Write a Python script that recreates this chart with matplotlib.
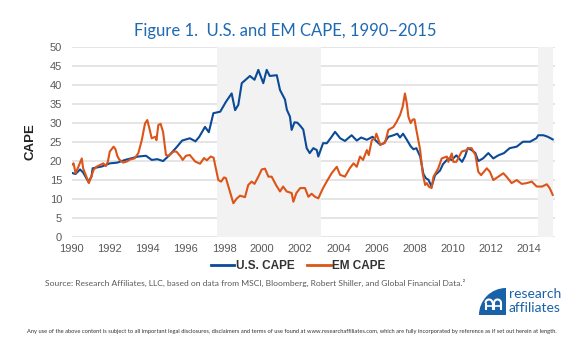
import matplotlib
matplotlib.use("Agg")
import matplotlib.pyplot as plt
from matplotlib.patches import Wedge, Arc
from matplotlib.lines import Line2D

# U.S. CAPE (year fraction, value)
us_years = [1990.0, 1990.2, 1990.44, 1990.6, 1990.87, 1991.04, 1991.1, 1991.6, 1992.0, 1992.4,
            1992.8, 1993.5, 1993.9, 1994.2, 1994.5, 1994.8, 1995.1, 1995.5, 1995.8, 1996.2,
            1996.5, 1996.7, 1997.0, 1997.2, 1997.44, 1997.8, 1998.1, 1998.4, 1998.58, 1998.75,
            1998.93, 1999.36, 1999.6, 1999.8, 2000.06, 2000.24, 2000.4, 2000.77, 2000.94, 2001.2,
            2001.3, 2001.46, 2001.55, 2001.7, 2001.85, 2002.0, 2002.16, 2002.34, 2002.5, 2002.69,
            2002.87, 2002.95, 2003.2, 2003.4, 2003.65, 2003.83, 2004.1, 2004.35, 2004.7, 2004.97,
            2005.2, 2005.5, 2005.8, 2005.93, 2006.2, 2006.4, 2006.63, 2006.9, 2007.1, 2007.24,
            2007.4, 2007.6, 2007.8, 2007.95, 2008.1, 2008.3, 2008.47, 2008.6, 2008.73, 2008.9,
            2009.08, 2009.34, 2009.5, 2009.78, 2009.95, 2010.2, 2010.5, 2010.65, 2010.8, 2011.0,
            2011.2, 2011.35, 2011.6, 2011.88, 2012.14, 2012.4, 2012.7, 2013.0, 2013.37, 2013.7,
            2014.07, 2014.4, 2014.5, 2014.77, 2015.0, 2015.26]
us_cape = [16.8, 16.5, 17.7, 16.9, 14.5, 15.8, 18.0, 18.5, 19.3, 19.5,
           20.2, 21.1, 21.3, 20.2, 20.4, 19.9, 21.3, 23.5, 25.3, 25.9,
           25.1, 26.3, 28.9, 27.5, 32.5, 32.9, 35.5, 37.7, 33.3, 34.7,
           40.4, 42.3, 41.3, 43.9, 40.4, 43.9, 42.3, 42.5, 38.6, 36.1,
           33.4, 31.6, 28.1, 30.1, 30.0, 29.2, 28.2, 23.3, 22.0, 23.3,
           22.8, 21.1, 24.6, 24.6, 26.3, 27.6, 25.9, 25.2, 26.7, 25.3,
           26.1, 25.5, 26.3, 25.5, 24.2, 24.6, 26.3, 26.7, 27.1, 26.1,
           27.1, 25.5, 23.8, 23.0, 23.3, 21.1, 16.5, 15.4, 15.0, 13.2,
           16.2, 17.4, 19.1, 20.6, 20.2, 21.4, 19.7, 21.1, 23.3, 22.8,
           22.0, 19.9, 20.6, 22.0, 20.6, 21.4, 22.0, 23.3, 23.7, 25.0,
           25.0, 25.9, 26.7, 26.7, 26.3, 25.6]

# EM CAPE (year fraction, value)
em_years = [1990.0, 1990.1, 1990.2, 1990.35, 1990.53, 1990.6, 1990.8, 1990.9, 1991.0, 1991.15,
            1991.3, 1991.5, 1991.66, 1991.8, 1991.9, 1992.0, 1992.2, 1992.3, 1992.4, 1992.5,
            1992.7, 1992.9, 1993.06, 1993.3, 1993.5, 1993.68, 1993.85, 1993.97, 1994.1, 1994.2,
            1994.4, 1994.45, 1994.55, 1994.67, 1994.8, 1994.95, 1995.1, 1995.34, 1995.5, 1995.7,
            1995.83, 1996.0, 1996.2, 1996.48, 1996.74, 1996.95, 1997.1, 1997.3, 1997.45, 1997.55,
            1997.7, 1997.85, 1998.0, 1998.1, 1998.31, 1998.49, 1998.66, 1998.84, 1999.1, 1999.27,
            1999.45, 1999.6, 1999.8, 1999.98, 2000.15, 2000.33, 2000.5, 2000.73, 2000.94, 2001.1,
            2001.29, 2001.55, 2001.64, 2001.8, 2002.0, 2002.25, 2002.43, 2002.6, 2002.78, 2002.95,
            2003.2, 2003.39, 2003.65, 2003.92, 2004.09, 2004.35, 2004.6, 2004.8, 2004.97, 2005.14,
            2005.3, 2005.5, 2005.6, 2005.76, 2005.93, 2006.0, 2006.2, 2006.45, 2006.63, 2006.9,
            2007.07, 2007.24, 2007.38, 2007.5, 2007.6, 2007.68, 2007.8, 2007.9, 2008.0, 2008.1,
            2008.3, 2008.43, 2008.56, 2008.65, 2008.75, 2008.9, 2009.0, 2009.25, 2009.43, 2009.7,
            2009.78, 2009.96, 2010.04, 2010.2, 2010.48, 2010.75, 2010.83, 2011.0, 2011.2, 2011.35,
            2011.5, 2011.8, 2011.96, 2012.14, 2012.4, 2012.67, 2012.9, 2013.1, 2013.37, 2013.63,
            2013.9, 2014.16, 2014.42, 2014.7, 2014.95, 2015.1, 2015.26]
em_cape = [18.9, 19.3, 16.7, 18.4, 20.6, 18.0, 15.4, 14.1, 15.4, 17.6,
           18.4, 18.9, 19.3, 18.6, 19.8, 22.4, 23.7, 23.0, 21.2, 20.3,
           19.5, 19.8, 20.3, 20.6, 22.0, 25.4, 29.8, 30.7, 28.1, 25.9,
           26.3, 25.4, 29.4, 29.7, 27.5, 21.5, 21.3, 22.4, 22.4, 21.2,
           20.2, 21.3, 21.5, 19.8, 19.2, 20.7, 20.1, 21.1, 20.8, 18.4,
           14.9, 14.5, 15.6, 15.4, 11.8, 8.8, 10.0, 10.8, 10.4, 13.6,
           14.5, 13.9, 15.8, 17.7, 17.9, 15.8, 15.8, 13.6, 11.9, 13.2,
           11.9, 11.5, 9.2, 11.5, 12.8, 12.8, 10.5, 11.3, 10.5, 10.1,
           12.8, 14.5, 16.7, 18.4, 16.3, 15.8, 18.0, 19.3, 18.4, 21.1,
           20.2, 22.8, 21.5, 25.4, 25.9, 27.1, 24.2, 24.7, 28.1, 28.9,
           30.3, 32.0, 34.2, 37.7, 35.0, 31.6, 29.9, 30.8, 30.9, 28.1,
           22.8, 16.7, 13.6, 14.1, 13.2, 12.8, 15.8, 18.0, 20.6, 21.1,
           19.7, 21.9, 19.7, 19.7, 22.4, 22.8, 23.3, 23.3, 21.5, 17.1,
           16.2, 18.0, 17.1, 14.9, 15.8, 16.7, 15.4, 14.1, 14.9, 13.9,
           14.1, 14.5, 13.2, 13.2, 13.8, 12.8, 11.0]

# Shaded periods
band_starts = [1997.62, 2014.5]
band_ends = [2003.08, 2015.26]

x_ticks = list(range(1990, 2015, 2))
y_ticks = list(range(0, 51, 5))

BLUE = "#0b4a96"
ORANGE = "#dd5418"
TITLE_BLUE = "#1f69b3"
LOGO_BLUE = "#1a62a8"
GRAY = "#595959"

W, H = 580, 343
fig = plt.figure(figsize=(W / 100, H / 100), dpi=100)

# main plot area, placed in pixel terms
left, right, top, bottom = 71.7, 555.0, 46.7, 236.7
ax = fig.add_axes([left / W, 1 - bottom / H, (right - left) / W, (bottom - top) / H])
ax.set_xlim(1990.0, 2015.38)
ax.set_ylim(0, 50)

for s, e in zip(band_starts, band_ends):
    ax.axvspan(s, e, color="#f2f2f2", lw=0, zorder=1)

ax.plot(us_years, us_cape, color=BLUE, lw=1.5, zorder=3, solid_joinstyle="round")
ax.plot(em_years, em_cape, color=ORANGE, lw=1.5, zorder=3, solid_joinstyle="round")

ax.set_axisbelow(True)
ax.yaxis.grid(True, color="#e3e3e3", lw=1.3)
ax.xaxis.grid(False)
for sp in ax.spines.values():
    sp.set_visible(False)

ax.set_xticks(x_ticks)
ax.set_xticklabels([str(t) for t in x_ticks])
ax.set_yticks(y_ticks)
ax.tick_params(axis="both", length=0, labelsize=8, labelcolor=GRAY)
ax.tick_params(axis="y", pad=7)
ax.tick_params(axis="x", pad=5)
for lab in ax.get_xticklabels() + ax.get_yticklabels():
    lab.set_fontfamily("Liberation Sans")

ax.set_ylabel("CAPE", fontsize=9.5, fontweight="bold", color="#222222",
              fontfamily="Liberation Sans")
ax.yaxis.set_label_coords(-(left - 36) / (right - left), 0.5)

# overlay in pixel coordinates (y grows downward) for titles, legend, notes and logo
ov = fig.add_axes([0, 0, 1, 1], zorder=5)
ov.set_xlim(0, W)
ov.set_ylim(H, 0)
ov.axis("off")

ov.text(285, 31, "Figure 1.  U.S. and EM CAPE, 1990\u20132015", ha="center", va="center",
        fontsize=12, color=TITLE_BLUE, fontfamily="Lato")

# legend
handles = [Line2D([], [], color=BLUE, lw=2), Line2D([], [], color=ORANGE, lw=2)]
leg = fig.legend(handles, ["U.S. CAPE", "EM CAPE"], loc="center",
                 bbox_to_anchor=(298 / W, 1 - 266 / H), ncol=2, frameon=False,
                 handlelength=2.0, handletextpad=0.1, columnspacing=1.1,
                 prop={"family": "Liberation Sans", "weight": "bold", "size": 8.5})
for t in leg.get_texts():
    t.set_color("#333333")

ov.text(45, 283, "Source: Research Affiliates, LLC, based on data from MSCI, Bloomberg, "
        "Robert Shiller, and Global Financial Data.\u00b2", ha="left", va="center",
        fontsize=6.1, color=GRAY, fontfamily="Lato")

# logo mark: quarter disc with two white arches
ov.add_patch(Wedge((506, 315), 27, 180, 270, facecolor=LOGO_BLUE, edgecolor="none"))
for cx in (489.0, 497.5):
    ov.add_patch(Arc((cx, 303), 7, 7, theta1=180, theta2=360, color="white", lw=1.5))
    ov.plot([cx - 3.5, cx - 3.5], [303, 309.5], color="white", lw=1.5, solid_capstyle="butt")
    ov.plot([cx + 3.5, cx + 3.5], [303, 309.5], color="white", lw=1.5, solid_capstyle="butt")
ov.plot([485.5, 501], [305.5, 305.5], color="white", lw=1.2)
ov.text(509, 294, "research", ha="left", va="center", fontsize=10,
        color=LOGO_BLUE, fontfamily="Lato")
ov.text(509, 308, "affiliates", ha="left", va="center", fontsize=10,
        color=LOGO_BLUE, fontfamily="Lato")

ov.text(292, 331, "Any use of the above content is subject to all important legal disclosures, "
        "disclaimers and terms of use found at www.researchaffiliates.com, which are fully "
        "incorporated by reference as if set out herein at length.",
        ha="center", va="center", fontsize=4.15, color="#333333", fontfamily="Lato")

fig.savefig("out.png", dpi=100, facecolor="white")
